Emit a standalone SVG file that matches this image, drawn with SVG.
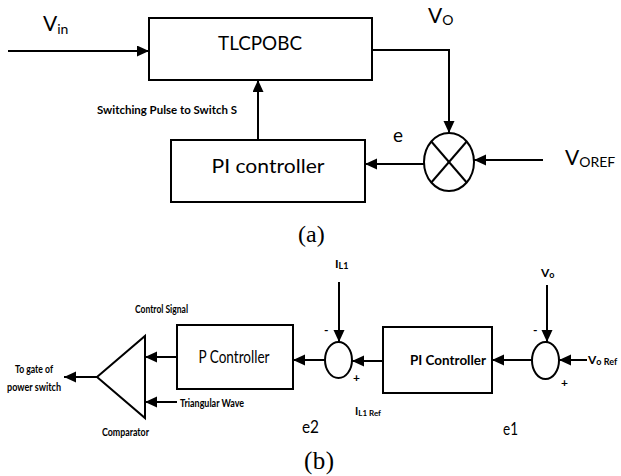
<svg xmlns="http://www.w3.org/2000/svg" width="621" height="476" viewBox="0 0 621 476">
<defs>
<marker id="ah" markerUnits="userSpaceOnUse" markerWidth="14" markerHeight="12" refX="12" refY="5.5" orient="auto">
<path d="M0,0 L12,5.5 L0,11 Z" fill="#000"/>
</marker>
<style>
.ln{stroke:#000;stroke-width:2;fill:none}
.box{stroke:#000;stroke-width:2;fill:#fff}
.t{font-family:Lato,"Open Sans","Liberation Sans",sans-serif;fill:#000}
.b{font-family:Lato,"Liberation Sans",sans-serif;font-weight:bold;fill:#000}
.s{font-family:"Liberation Serif",serif;fill:#000}
</style>
</defs>
<rect width="621" height="476" fill="#fff"/>

<!-- (a) -->
<g id="tlcpobc">
<rect class="box" x="149" y="18" width="223" height="62"/>
<text class="t" x="260" y="50" font-size="20" text-anchor="middle" textLength="84" lengthAdjust="spacingAndGlyphs">TLCPOBC</text>
</g>
<g id="pi-a">
<rect class="box" x="171" y="140" width="194" height="62"/>
<text class="t" x="268" y="173" font-size="20" text-anchor="middle" textLength="113" lengthAdjust="spacingAndGlyphs">PI controller</text>
</g>
<g id="mult">
<ellipse class="ln" cx="449" cy="162" rx="25" ry="29"/>
<line class="ln" x1="431.3" y1="141.5" x2="466.7" y2="182.5" stroke-width="1.5"/>
<line class="ln" x1="466.7" y1="141.5" x2="431.3" y2="182.5" stroke-width="1.5"/>
</g>
<g id="connectors-a">
<line class="ln" x1="8" y1="51" x2="149" y2="51" marker-end="url(#ah)"/>
<line class="ln" x1="258" y1="140" x2="258" y2="80" marker-end="url(#ah)"/>
<polyline class="ln" points="372,50 449,50 449,133" marker-end="url(#ah)"/>
<line class="ln" x1="424" y1="164" x2="365" y2="164" marker-end="url(#ah)"/>
<line class="ln" x1="543" y1="160" x2="474" y2="160" marker-end="url(#ah)"/>
</g>
<g id="labels-a">
<text class="t" x="43" y="31" font-size="21">V<tspan font-size="14" dy="3">in</tspan></text>
<text class="b" x="97" y="114" font-size="11" textLength="140" lengthAdjust="spacingAndGlyphs">Switching Pulse to Switch S</text>
<text class="t" x="428" y="23" font-size="21">V<tspan font-size="14" dy="2">O</tspan></text>
<text class="t" x="393" y="142" font-size="19">e</text>
<text class="t" x="565" y="165" font-size="21">V<tspan font-size="14" dy="2">OREF</tspan></text>
<text class="s" x="298" y="242" font-size="24">(a)</text>
</g>

<!-- (b) -->
<g id="comparator">
<polygon class="box" points="97,377 145,336 145,418"/>
</g>
<g id="p-controller">
<rect class="box" x="177" y="325" width="116" height="64"/>
<text class="t" x="234" y="363" font-size="18" text-anchor="middle" textLength="71" lengthAdjust="spacingAndGlyphs">P Controller</text>
</g>
<g id="sum1">
<ellipse class="ln" cx="338.5" cy="360" rx="13.5" ry="18" stroke-width="1.5"/>
</g>
<g id="pi-b">
<rect class="box" x="383" y="327" width="109" height="66"/>
<text class="b" x="448" y="365" font-size="14" text-anchor="middle" textLength="76" lengthAdjust="spacingAndGlyphs">PI Controller</text>
</g>
<g id="sum2">
<ellipse class="ln" cx="545.5" cy="360.5" rx="13.5" ry="18.5" stroke-width="1.5"/>
</g>
<g id="connectors-b">
<line class="ln" x1="97" y1="377" x2="64" y2="377" marker-end="url(#ah)"/>
<line class="ln" x1="177" y1="357" x2="145" y2="357" marker-end="url(#ah)"/>
<line class="ln" x1="177" y1="402" x2="145" y2="402" marker-end="url(#ah)"/>
<line class="ln" x1="325" y1="360" x2="293" y2="360" marker-end="url(#ah)"/>
<line class="ln" x1="383" y1="361" x2="352" y2="361" marker-end="url(#ah)"/>
<line class="ln" x1="339" y1="282" x2="339" y2="342" stroke-width="1.2" marker-end="url(#ah)"/>
<line class="ln" x1="532" y1="360" x2="492" y2="360" marker-end="url(#ah)"/>
<line class="ln" x1="547" y1="285" x2="547" y2="342" stroke-width="1.2" marker-end="url(#ah)"/>
<line class="ln" x1="587" y1="360" x2="559" y2="360" marker-end="url(#ah)"/>
</g>
<g id="labels-b">
<text class="b" x="15" y="373" font-size="11" textLength="38" lengthAdjust="spacingAndGlyphs">To gate of</text>
<text class="b" x="7" y="391" font-size="11" textLength="54" lengthAdjust="spacingAndGlyphs">power switch</text>
<text class="b" x="135" y="313" font-size="11" textLength="53" lengthAdjust="spacingAndGlyphs">Control Signal</text>
<text class="b" x="180" y="407" font-size="11" textLength="64" lengthAdjust="spacingAndGlyphs">Triangular Wave</text>
<text class="b" x="102" y="436" font-size="11" textLength="47" lengthAdjust="spacingAndGlyphs">Comparator</text>
<text class="t" x="302" y="433" font-size="18" textLength="17" lengthAdjust="spacingAndGlyphs">e2</text>
<text class="b" x="335" y="268" font-size="12">I<tspan font-size="9" dy="1">L1</tspan></text>
<text class="b" x="324" y="334" font-size="12">-</text>
<text class="b" x="353" y="382" font-size="12">+</text>
<text class="b" x="355" y="415" font-size="11">I<tspan font-size="8" dy="1">L1 Ref</tspan></text>
<text class="b" x="541" y="277" font-size="12">V<tspan font-size="9" dy="1">o</tspan></text>
<text class="b" x="533" y="334" font-size="12">-</text>
<text class="b" x="561" y="387" font-size="12">+</text>
<text class="b" x="588" y="364" font-size="12">V<tspan font-size="9" dy="1">o Ref</tspan></text>
<text class="t" x="503" y="435" font-size="18" textLength="15" lengthAdjust="spacingAndGlyphs">e1</text>
<text class="s" x="304" y="469" font-size="25" letter-spacing="0.5">(b)</text>
</g>
</svg>
